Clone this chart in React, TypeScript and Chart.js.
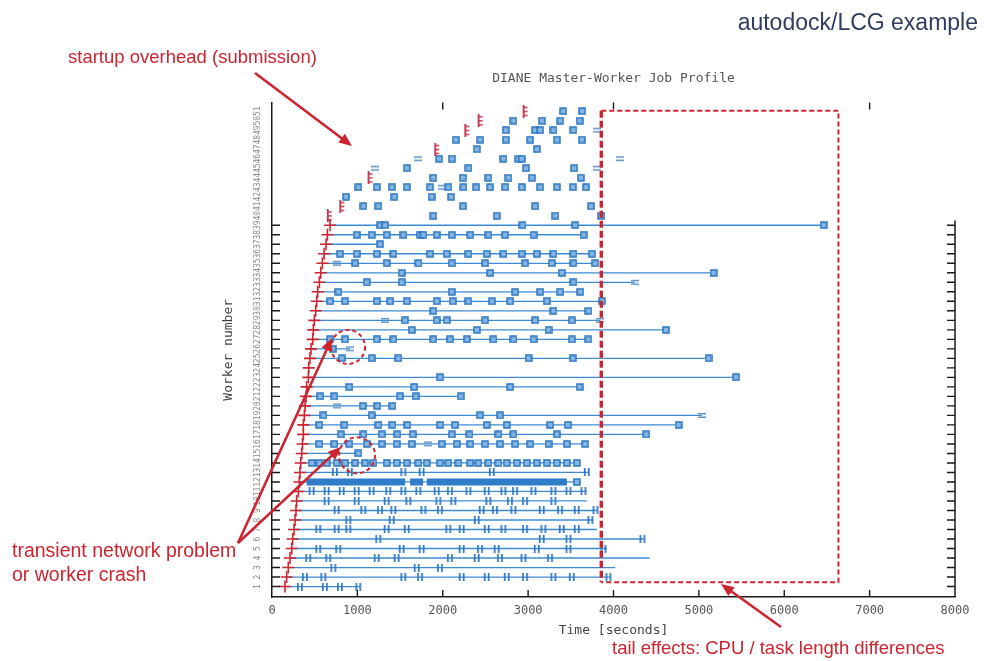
import React, { useEffect, useRef } from "react";
import { Chart, registerables } from "chart.js";

Chart.register(...registerables);

// ---------- data ----------
const xTickValues = [0, 1000, 2000, 3000, 4000, 5000, 6000, 7000, 8000];
const xTickLabels = ["0", "1000", "2000", "3000", "4000", "5000", "6000", "7000", "8000"];
const topTickValues = [2000, 4000, 7000];

// worker rows 0..50 (row 0 at the bottom); label shown on the axis
const workerLabels = [
  "1", "2", "3", "4", "5", "6", "7", "8", "9", "10", "11", "12", "13", "14", "15", "16", "17",
  "18", "19", "20", "21", "22", "23", "24", "25", "26", "27", "28", "29", "30", "31", "32", "33",
  "34", "35", "36", "37", "38", "39", "40", "41", "42", "43", "44", "45", "46", "47", "48", "49",
  "50", "51",
];
const firstIdleRow = 39; // rows from here up have no connection line

// time the worker registered (red marker), seconds
const rowStart: (number | null)[] = [
  152, 172, 191, 211, 231, 242, 258, 270, 281, 289, 309, 320, 328, 336, 348, 357, 367, 367, 379,
  387, 399, 406, 426, 430, 445, 457, 477, 484, 496, 512, 524, 535, 555, 571, 590, 610, 633, 649,
  680, 672, 817, null, null, 1149, null, null, 1930, null, 2282, 2438, 2965,
];
// time the worker's line ends, seconds
const rowEnd: (number | null)[] = [
  1031, 3961, 4020, 4422, 3922, 4352, 3805, 3766, 3805, 3688, 3688, 3590, 3707, 3590, 1012, 3668,
  4383, 4762, 5036, 1410, 2212, 3610, 5435, null, 5113, 914, 3707, 4614, 3844, 3727, 3864, 3610,
  4246, 5172, 3790, 3747, 1266, 3649, 6461, null, null, null, null, null, null, null, null, null,
  null, null, null,
];

// completed tasks drawn as squares
const squareTimes: number[][] = [
  [], [], [], [], [], [], [], [], [], [], [], [3571], [],
  [465, 554, 641, 758, 856, 973, 1090, 1188, 1344, 1461, 1579, 1715, 1813, 1969, 2066, 2184, 2321, 2418, 2535, 2652, 2750, 2867, 2985, 3102, 3219, 3337, 3454, 3571],
  [1012],
  [554, 730, 906, 1110, 1286, 1461, 1637, 1989, 2165, 2321, 2496, 2672, 2848, 3024, 3239, 3454, 3668],
  [805, 1071, 1286, 1469, 1649, 2106, 2313, 2652, 2828, 3337, 4383],
  [554, 847, 1246, 1410, 1586, 1969, 2145, 2516, 2750, 3258, 3465, 4762],
  [602, 1168, 2438, 2672],
  [1063, 1234, 1410],
  [563, 730, 1500, 1684, 2212],
  [906, 1664, 2789, 3602],
  [1969, 5435],
  [],
  [817, 1168, 1481, 3005, 3524, 5113],
  [711],
  [680, 856, 1227, 1422, 1890, 2086, 2282, 2594, 2828, 3063, 3512, 3707],
  [1637, 2399, 3239, 4614],
  [1559, 1930, 2047, 2496, 3082, 3512],
  [1890, 3297, 3707],
  [680, 856, 1227, 1383, 1579, 1930, 2118, 2301, 2575, 2789, 3219, 3864],
  [777, 2106, 2848, 3141, 3375, 3610],
  [1110, 1520, 3531],
  [1520, 2555, 3395, 5172],
  [973, 1344, 1715, 2106, 2496, 2965, 3278, 3531, 3786],
  [797, 993, 1227, 1422, 1852, 2047, 2301, 2516, 2711, 2926, 3102, 3297, 3531, 3747],
  [1266],
  [993, 1168, 1344, 1539, 1735, 1774, 1930, 2106, 2321, 2535, 2731, 3063, 3649],
  [1266, 1324, 2934, 3551, 6461],
  [1890, 2633, 3317, 3856],
  [1071, 1246, 2235, 3082, 3735],
  [867, 1433, 1871, 2098],
  [1012, 1227, 1403, 1579, 1852, 2066, 2242, 2391, 2555, 2731, 2926, 3141, 3337, 3524, 3680],
  [1890, 2235, 2535, 2770, 3044, 3618],
  [1579, 2301, 2977, 3539],
  [1957, 2106, 2711, 2887, 2926],
  [2399, 3102],
  [2153, 2438, 2739, 3024, 3337, 3630],
  [2739, 3082, 3141, 3297, 3531],
  [2828, 3161, 3375, 3602],
  [3411, 3633],
];

// short tasks drawn as tick pairs (bottom rows 0..12)
const pairTickTimes: number[][] = [
  [328, 621, 797, 1012],
  [387, 602, 1539, 1735, 2223, 2516, 2750, 2965, 3297, 3512, 3942],
  [719, 1696, 1969],
  [426, 660, 1227, 1461, 2086, 2399, 2672, 2946, 3258],
  [543, 777, 1520, 1754, 2223, 2438, 2633, 3102, 3473, 3883],
  [1246, 3161, 3473, 4340],
  [543, 758, 895, 1344, 1579, 2066, 2223, 2516, 2711, 2965, 3180, 3395, 3571],
  [895, 1403, 2399, 3730],
  [758, 1071, 1266, 1422, 1774, 1969, 2457, 2613, 2828, 3161, 3375, 3571, 3790],
  [641, 993, 1344, 1598, 1950, 2125, 2535, 2789, 2965, 3297],
  [465, 641, 817, 993, 1168, 1363, 1539, 1715, 1930, 2086, 2301, 2516, 2711, 2848, 3063, 3297, 3473, 3649],
  [],
  [738, 914, 1539, 1754, 2575, 3688],
];

// failed / aborted task marks ("=") : [row, time]
const failedMarks: [number, number][] = [
  [15, 1832], [18, 5036], [19, 758], [25, 914], [28, 1324], [28, 3844], [32, 4246], [34, 758],
  [42, 1989], [44, 1207], [44, 3805], [45, 1715], [45, 4080], [48, 3805],
];

// dense runs of very short tasks: [row, from, to]
const denseSegments: [number, number, number][] = [
  [11, 406, 1559], [11, 1617, 1770], [11, 1813, 3454],
];

// tail region annotation (seconds / rows)
const tailStart = 3857;
const tailEnd = 6635;
const tailTopRow = 50.05;
const tailBottomRow = 0.45;
const circleMarks: [number, number, number][] = [
  [891, 25.2, 17],
  [996, 13.8, 18],
];

// ---------- styling ----------
const BLUE = "#2b76c2";
const LINE_BLUE = "#3d8bd3";
const RED = "#cc2430";
const MONO = "'DejaVu Sans Mono', 'Liberation Mono', monospace";

function makeCanvas(w: number, h: number, draw: (g: CanvasRenderingContext2D) => void) {
  const c = document.createElement("canvas");
  c.width = w;
  c.height = h;
  const g = c.getContext("2d");
  if (g) draw(g);
  return c;
}

function arrow(ctx: CanvasRenderingContext2D, x1: number, y1: number, x2: number, y2: number) {
  const head = 13;
  const ang = Math.atan2(y2 - y1, x2 - x1);
  const bx = x2 - head * 0.8 * Math.cos(ang);
  const by = y2 - head * 0.8 * Math.sin(ang);
  ctx.beginPath();
  ctx.moveTo(x1, y1);
  ctx.lineTo(bx, by);
  ctx.stroke();
  const hw = head * 0.42;
  ctx.beginPath();
  ctx.moveTo(x2, y2);
  ctx.lineTo(x2 - head * Math.cos(ang) + hw * Math.sin(ang), y2 - head * Math.sin(ang) - hw * Math.cos(ang));
  ctx.lineTo(x2 - head * Math.cos(ang) - hw * Math.sin(ang), y2 - head * Math.sin(ang) + hw * Math.cos(ang));
  ctx.closePath();
  ctx.fill();
}

const decorPlugin = {
  id: "decor",
  afterDatasetsDraw(chart: any) {
    const { ctx, chartArea: a, scales } = chart;
    const X = (v: number) => scales.x.getPixelForValue(v);
    const Y = (v: number) => scales.y.getPixelForValue(v);
    ctx.save();
    ctx.setLineDash([]);
    // right border (partial) and inward ticks
    ctx.strokeStyle = "#1a1a1a";
    ctx.lineWidth = 1.5;
    ctx.beginPath();
    ctx.moveTo(a.right, Y(firstIdleRow - 0.5));
    ctx.lineTo(a.right, a.bottom);
    ctx.stroke();
    ctx.lineWidth = 1.4;
    ctx.beginPath();
    for (const v of xTickValues) {
      if (v <= 0 || v >= 8000) continue;
      ctx.moveTo(X(v), a.bottom);
      ctx.lineTo(X(v), a.bottom - 7);
    }
    for (const v of topTickValues) {
      ctx.moveTo(X(v), a.top);
      ctx.lineTo(X(v), a.top + 7);
    }
    for (let r = 0; r < firstIdleRow; r++) {
      ctx.moveTo(a.left, Y(r));
      ctx.lineTo(a.left + 8, Y(r));
      ctx.moveTo(a.right, Y(r));
      ctx.lineTo(a.right - 8, Y(r));
    }
    ctx.stroke();

    // rotated worker labels
    ctx.fillStyle = "#8a8a8a";
    ctx.font = `8px ${MONO}`;
    ctx.textAlign = "center";
    ctx.textBaseline = "middle";
    workerLabels.forEach((lab, r) => {
      ctx.save();
      ctx.translate(a.left - 14, Y(r));
      ctx.rotate(-Math.PI / 2);
      ctx.fillText(lab, 0, 0);
      ctx.restore();
    });

    // red annotations
    ctx.strokeStyle = RED;
    ctx.fillStyle = RED;
    // tail line
    ctx.lineWidth = 3.4;
    ctx.setLineDash([7, 3]);
    ctx.beginPath();
    ctx.moveTo(X(tailStart), Y(tailTopRow));
    ctx.lineTo(X(tailStart), Y(tailBottomRow));
    ctx.stroke();
    ctx.lineWidth = 2;
    ctx.setLineDash([5, 3]);
    ctx.beginPath();
    ctx.moveTo(X(tailStart), Y(tailTopRow));
    ctx.lineTo(X(tailEnd), Y(tailTopRow));
    ctx.lineTo(X(tailEnd), Y(tailBottomRow));
    ctx.lineTo(X(tailStart), Y(tailBottomRow));
    ctx.stroke();
    // circles
    ctx.setLineDash([4, 3]);
    for (const [t, r, rad] of circleMarks) {
      ctx.beginPath();
      ctx.arc(X(t), Y(r), rad, 0, Math.PI * 2);
      ctx.stroke();
    }
    // arrows
    ctx.setLineDash([]);
    ctx.lineWidth = 2.6;
    arrow(ctx, 255, 73, 352, 146);
    arrow(ctx, 238, 543, 332, 338);
    arrow(ctx, 238, 543, 341, 447);
    arrow(ctx, 781, 627, 721, 584);
    ctx.restore();
  },
};

export default function App() {
  const ref = useRef<HTMLCanvasElement>(null);

  useEffect(() => {
    if (!ref.current) return;
    const squareImg = makeCanvas(8, 8, (g) => {
      g.fillStyle = "#86b6e4";
      g.fillRect(1, 1, 6, 6);
      g.strokeStyle = BLUE;
      g.lineWidth = 1.5;
      g.strokeRect(1, 1, 6, 6);
    });
    const pairImg = makeCanvas(8, 8, (g) => {
      g.fillStyle = BLUE;
      g.fillRect(1, 0, 1.7, 8);
      g.fillRect(5, 0, 1.7, 8);
    });
    const failImg = makeCanvas(8, 7, (g) => {
      g.fillStyle = "#5d8fc4";
      g.fillRect(0, 1, 8, 1.5);
      g.fillRect(0, 4.5, 8, 1.5);
    });
    const idleStartImg = makeCanvas(7, 13, (g) => {
      g.fillStyle = "#c0304a";
      g.fillRect(1, 0, 1.8, 13);
      g.fillRect(1, 2, 5, 1.4);
      g.fillRect(1, 6, 5, 1.4);
      g.fillRect(1, 10, 5, 1.4);
    });

    const rows = workerLabels.map((_, i) => i);
    const datasets: any[] = [];

    datasets.push({
      label: "start",
      data: rows
        .filter((r) => rowStart[r] !== null && r < firstIdleRow)
        .map((r) => ({ x: rowStart[r], y: r })),
      pointStyle: "cross",
      pointRadius: 6,
      borderColor: RED,
      backgroundColor: RED,
      borderWidth: 1.6,
      order: 0,
    });
    datasets.push({
      label: "start idle",
      data: rows
        .filter((r) => rowStart[r] !== null && r >= firstIdleRow)
        .map((r) => ({ x: rowStart[r], y: r })),
      pointStyle: idleStartImg,
      pointRadius: 5,
      order: 0,
    });
    datasets.push({
      label: "tasks",
      data: rows.flatMap((r) => squareTimes[r].map((t) => ({ x: t, y: r }))),
      pointStyle: squareImg,
      pointRadius: 4,
      order: 1,
    });
    datasets.push({
      label: "short tasks",
      data: pairTickTimes.flatMap((ts, r) => ts.map((t) => ({ x: t, y: r }))),
      pointStyle: pairImg,
      pointRadius: 4,
      order: 1,
    });
    datasets.push({
      label: "failed",
      data: failedMarks.map(([r, t]) => ({ x: t, y: r })),
      pointStyle: failImg,
      pointRadius: 4,
      order: 1,
    });
    denseSegments.forEach(([r, a, b], i) => {
      datasets.push({
        label: "dense " + i,
        data: [{ x: a, y: r }, { x: b, y: r }],
        showLine: true,
        pointRadius: 0,
        borderColor: "#2f7cc8",
        borderWidth: 7,
        borderCapStyle: "butt",
        order: 3,
      });
    });
    rows.forEach((r) => {
      const s = rowStart[r];
      const e = rowEnd[r];
      if (s === null || e === null) return;
      datasets.push({
        label: "worker " + workerLabels[r],
        data: [{ x: s, y: r }, { x: e, y: r }],
        showLine: true,
        pointRadius: 0,
        borderColor: LINE_BLUE,
        borderWidth: 1.3,
        order: 5,
      });
    });

    const chart = new Chart(ref.current, {
      type: "scatter",
      data: { datasets },
      plugins: [decorPlugin],
      options: {
        animation: false,
        responsive: false,
        maintainAspectRatio: false,
        events: [],
        layout: { padding: { left: 220, right: 29, top: 60, bottom: 21 } },
        plugins: {
          legend: { display: false },
          tooltip: { enabled: false },
          title: {
            display: true,
            fullSize: false,
            text: "DIANE Master-Worker Job Profile",
            color: "#555",
            font: { family: MONO, size: 13, weight: "normal" },
            padding: { top: 11, bottom: 16 },
          },
        },
        scales: {
          x: {
            type: "linear",
            min: 0,
            max: 8000,
            afterFit: (s: any) => {
              s.height = 43;
            },
            ticks: {
              stepSize: 1000,
              autoSkip: false,
              maxRotation: 0,
              padding: 7,
              color: "#555",
              font: { family: MONO, size: 12 },
              callback: (v: any) => {
                const i = xTickValues.indexOf(Number(v));
                return i >= 0 ? xTickLabels[i] : "";
              },
            },
            grid: { display: false, drawTicks: false },
            border: { display: true, color: "#1a1a1a", width: 1.5 },
            title: {
              display: true,
              text: "Time [seconds]",
              color: "#444",
              font: { family: MONO, size: 13 },
              padding: { top: 0, bottom: 2 },
            },
          },
          y: {
            type: "linear",
            min: -1.1,
            max: 50.9,
            afterFit: (s: any) => {
              s.width = 52;
            },
            ticks: { display: false },
            grid: { display: false, drawTicks: false },
            border: { display: true, color: "#1a1a1a", width: 1.5 },
            title: {
              display: true,
              text: "Worker number",
              color: "#444",
              font: { family: MONO, size: 13 },
              padding: { top: 1, bottom: 0 },
            },
          },
        },
      } as any,
    });
    return () => chart.destroy();
  }, []);

  const red: React.CSSProperties = {
    position: "absolute",
    color: RED,
    fontFamily: "'Liberation Sans', Arial, sans-serif",
    fontSize: 18.5,
    lineHeight: 1,
    whiteSpace: "nowrap",
  };

  return (
    <div
      style={{
        position: "fixed",
        left: 0,
        top: 0,
        width: 984,
        height: 661,
        background: "#fff",
        overflow: "hidden",
      }}
    >
      <canvas
        ref={ref}
        width={984}
        height={661}
        style={{ position: "absolute", left: 0, top: 0, width: 984, height: 661 }}
      />
      <div
        style={{
          position: "absolute",
          right: 6,
          top: 11,
          color: "#2e3c60",
          fontFamily: "'Liberation Sans', Arial, sans-serif",
          fontSize: 23,
          lineHeight: 1,
          whiteSpace: "nowrap",
        }}
      >
        autodock/LCG example
      </div>
      <div style={{ ...red, left: 68, top: 48 }}>startup overhead (submission)</div>
      <div style={{ ...red, left: 12, top: 541, fontSize: 19.5 }}>transient network problem</div>
      <div style={{ ...red, left: 12, top: 565, fontSize: 19.5 }}>or worker crash</div>
      <div style={{ ...red, left: 612, top: 639 }}>tail effects: CPU / task length differences</div>
    </div>
  );
}
